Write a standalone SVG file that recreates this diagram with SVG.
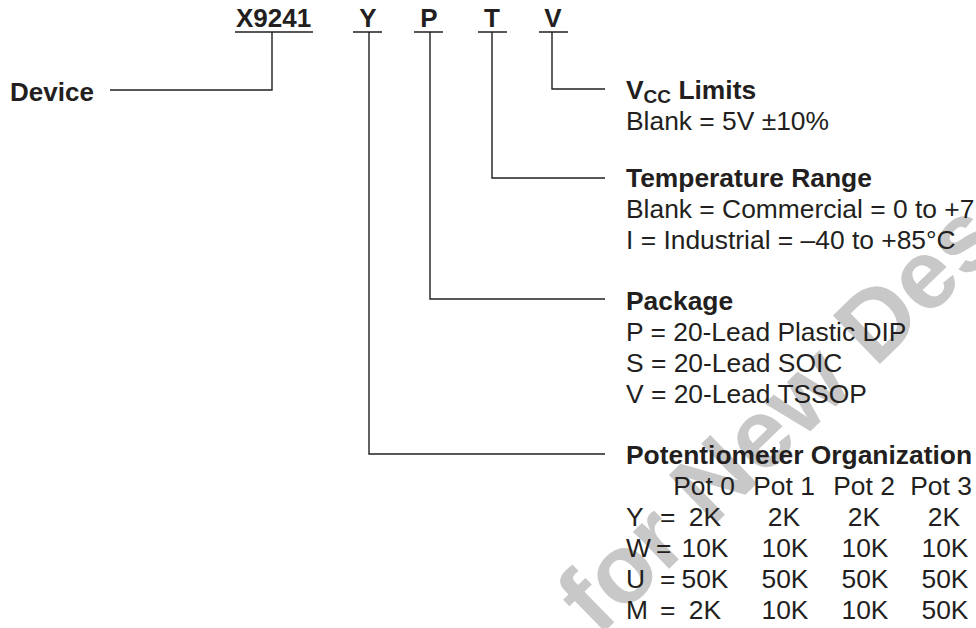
<svg xmlns="http://www.w3.org/2000/svg" width="976" height="628" viewBox="0 0 976 628">
<style>
text{font-family:"Liberation Sans",Arial,sans-serif;fill:#231f20;font-size:26px}
.r{font-size:26.4px}
.b{font-weight:bold}
.m{text-anchor:middle}
.wm{fill:#c8c8c8;font-weight:bold;font-size:98px}
.ln{stroke:#231f20;stroke-width:1.4;fill:none}
</style>
<rect width="976" height="628" fill="#ffffff"/>
<g id="watermark">
<text class="wm" transform="translate(598,638) rotate(-44.2)">for New Des</text>
</g>
<g id="part-number">
<text class="b" x="236" y="27">X9241</text>
<text class="b m" x="368" y="27">Y</text>
<text class="b m" x="429" y="27">P</text>
<text class="b m" x="492" y="27">T</text>
<text class="b m" x="553" y="27">V</text>
<path class="ln" d="M235 32H313M353 32H382M414 32H443M478 32H507M539 32H568"/>
</g>
<g id="device">
<text class="b" x="10" y="101">Device</text>
</g>
<g id="vcc">
<text class="b r" x="626" y="99">V<tspan font-size="19" dy="4">CC</tspan><tspan dy="-4"> Limits</tspan></text>
<text class="r" x="626" y="130">Blank = 5V ±10%</text>
</g>
<g id="temperature">
<text class="b r" x="626" y="187">Temperature Range</text>
<text class="r" x="626" y="218">Blank = Commercial = 0 to +7</text>
<text class="r" x="626" y="249">I = Industrial = –40 to +85°C</text>
</g>
<g id="package">
<text class="b r" x="626" y="310">Package</text>
<text class="r" x="626" y="341">P = 20-Lead Plastic DIP</text>
<text class="r" x="626" y="372">S = 20-Lead SOIC</text>
<text class="r" x="626" y="403">V = 20-Lead TSSOP</text>
</g>
<g id="potentiometer">
<text class="b r" x="626" y="464">Potentiometer Organization</text>
<text class="r m" x="704" y="495">Pot 0</text>
<text class="r m" x="784" y="495">Pot 1</text>
<text class="r m" x="864" y="495">Pot 2</text>
<text class="r m" x="941" y="495">Pot 3</text>
<text class="r" x="626" y="526">Y</text><text class="r" x="660" y="526">=</text>
<text class="r m" x="705" y="526">2K</text><text class="r m" x="784" y="526">2K</text><text class="r m" x="864" y="526">2K</text><text class="r m" x="944" y="526">2K</text>
<text class="r" x="626" y="557">W</text><text class="r" x="656" y="557">=</text>
<text class="r m" x="705" y="557">10K</text><text class="r m" x="785" y="557">10K</text><text class="r m" x="865" y="557">10K</text><text class="r m" x="945" y="557">10K</text>
<text class="r" x="626" y="588">U</text><text class="r" x="660" y="588">=</text>
<text class="r m" x="705" y="588">50K</text><text class="r m" x="785" y="588">50K</text><text class="r m" x="865" y="588">50K</text><text class="r m" x="945" y="588">50K</text>
<text class="r" x="626" y="619">M</text><text class="r" x="660" y="619">=</text>
<text class="r m" x="705" y="619">2K</text><text class="r m" x="785" y="619">10K</text><text class="r m" x="865" y="619">10K</text><text class="r m" x="945" y="619">50K</text>
</g>
<g id="connectors">
<path class="ln" d="M272 32V90H110"/>
<path class="ln" d="M552 32V89H605"/>
<path class="ln" d="M492 32V178H605"/>
<path class="ln" d="M430 32V299H605"/>
<path class="ln" d="M369 32V454H605"/>
</g>
</svg>
